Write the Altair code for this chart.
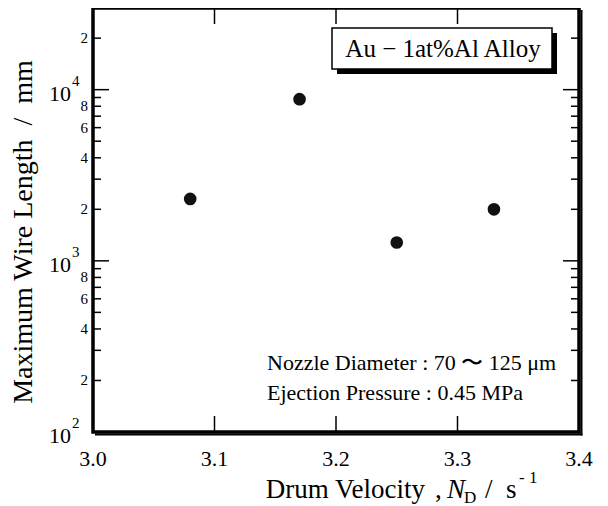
import altair as alt
import pandas as pd

# ---- data ----
drum_velocity = [3.08, 3.17, 3.25, 3.33]
max_wire_length = [2300, 8800, 1280, 2000]

x_ticks = [3.0, 3.1, 3.2, 3.3, 3.4]
x_tick_labels = ["3.0", "3.1", "3.2", "3.3", "3.4"]
y_major = [100, 1000, 10000]
y_major_exp = ["2", "3", "4"]
y_minor = [200, 300, 400, 500, 600, 700, 800, 900,
           2000, 3000, 4000, 5000, 6000, 7000, 8000, 9000,
           20000, 30000]
y_minor_labeled = [200, 400, 600, 800, 2000, 4000, 6000, 8000, 20000]
y_minor_labels = ["2", "4", "6", "8", "2", "4", "6", "8", "2"]

NB = "\u00a0"
legend_text = "Au − 1at%Al Alloy"
note_lines = ["Nozzle Diameter : 70 〜 125 μm", "Ejection Pressure : 0.45 MPa"]
y_title = f"Maximum Wire Length{NB}{NB}/{NB}{NB}mm"

W, H = 486, 424
FONT = "Liberation Serif"

xs = alt.Scale(domain=[3.0, 3.4], nice=False, zero=False)
ys = alt.Scale(type="log", domain=[100, 30000], nice=False)

pts = pd.DataFrame({"x": drum_velocity, "y": max_wire_length})
xt = pd.DataFrame({"x": x_ticks, "lab": x_tick_labels})
ymaj = pd.DataFrame({"y": y_major, "e": y_major_exp})
ymin = pd.DataFrame({"y": y_minor})
yminl = pd.DataFrame({"y": y_minor_labeled, "lab": y_minor_labels})
one = pd.DataFrame({"a": [0]})

X = lambda: alt.X("x:Q", scale=xs, axis=None)
Y = lambda: alt.Y("y:Q", scale=ys, axis=None)

points = alt.Chart(pts).mark_circle(size=160, color="#111111", opacity=1).encode(x=X(), y=Y())

# x ticks (bottom and top, inward)
xtick_b = alt.Chart(xt).mark_rule(color="black", strokeWidth=1.5).encode(
    x=X(), y=alt.value(H), y2=alt.value(H - 16))
xtick_t = alt.Chart(xt).mark_rule(color="black", strokeWidth=1.5).encode(
    x=X(), y=alt.value(0), y2=alt.value(16))
xlab = alt.Chart(xt).mark_text(font=FONT, fontSize=22, baseline="middle").encode(
    x=X(), y=alt.value(H + 27), text="lab:N")

# y ticks
ymaj_l = alt.Chart(ymaj).mark_rule(color="black", strokeWidth=1.5).encode(
    y=Y(), x=alt.value(0), x2=alt.value(16))
ymaj_r = alt.Chart(ymaj).mark_rule(color="black", strokeWidth=1.5).encode(
    y=Y(), x=alt.value(W), x2=alt.value(W - 16))
ymin_l = alt.Chart(ymin).mark_rule(color="black", strokeWidth=1.5).encode(
    y=Y(), x=alt.value(0), x2=alt.value(8))
ymin_r = alt.Chart(ymin).mark_rule(color="black", strokeWidth=1.5).encode(
    y=Y(), x=alt.value(W), x2=alt.value(W - 8))

ylab10 = alt.Chart(ymaj).mark_text(font=FONT, fontSize=22, align="right", baseline="middle", dy=4).encode(
    y=Y(), x=alt.value(-22), text=alt.value("10"))
ylabexp = alt.Chart(ymaj).mark_text(font=FONT, fontSize=15, align="left", baseline="middle", dy=-9).encode(
    y=Y(), x=alt.value(-21), text="e:N")
yminlab = alt.Chart(yminl).mark_text(font=FONT, fontSize=15, align="right", baseline="middle").encode(
    y=Y(), x=alt.value(-5), text="lab:N")

# frame and its shadow
frame = alt.Chart(one).mark_rect(fillOpacity=0, stroke="black", strokeWidth=3.5).encode(
    x=alt.value(0), x2=alt.value(W), y=alt.value(0), y2=alt.value(H))
shadow_r = alt.Chart(one).mark_rule(color="black", strokeWidth=2).encode(
    x=alt.value(W + 2.5), y=alt.value(2), y2=alt.value(H + 3.5))
shadow_b = alt.Chart(one).mark_rule(color="black", strokeWidth=2).encode(
    y=alt.value(H + 2.5), x=alt.value(2), x2=alt.value(W + 3.5))

# legend box
lg_sh = alt.Chart(one).mark_rect(color="black").encode(
    x=alt.value(244), x2=alt.value(464), y=alt.value(25), y2=alt.value(66))
lg_box = alt.Chart(one).mark_rect(fill="white", stroke="black", strokeWidth=1.5).encode(
    x=alt.value(239), x2=alt.value(459), y=alt.value(20), y2=alt.value(61))
lg_txt = alt.Chart(one).mark_text(font=FONT, fontSize=25, baseline="middle").encode(
    x=alt.value(350), y=alt.value(41), text=alt.value(legend_text))

note1 = alt.Chart(one).mark_text(font=FONT, fontSize=22, align="left", baseline="middle").encode(
    x=alt.value(174), y=alt.value(355), text=alt.value(note_lines[0]))
note2 = alt.Chart(one).mark_text(font=FONT, fontSize=22, align="left", baseline="middle").encode(
    x=alt.value(174), y=alt.value(385), text=alt.value(note_lines[1]))

# axis titles
ytitle = alt.Chart(one).mark_text(font=FONT, fontSize=28, angle=270, baseline="middle").encode(
    x=alt.value(-69), y=alt.value(224), text=alt.value(y_title))
TB = H + 66
xt1 = alt.Chart(one).mark_text(font=FONT, fontSize=27, align="right", baseline="alphabetic").encode(
    x=alt.value(332), y=alt.value(TB), text=alt.value("Drum Velocity"))
xt1b = alt.Chart(one).mark_text(font=FONT, fontSize=27, align="left", baseline="alphabetic").encode(
    x=alt.value(342), y=alt.value(TB), text=alt.value(","))
xt2 = alt.Chart(one).mark_text(font=FONT, fontSize=27, fontStyle="italic", align="left", baseline="alphabetic").encode(
    x=alt.value(354), y=alt.value(TB), text=alt.value("N"))
xt3 = alt.Chart(one).mark_text(font=FONT, fontSize=17, align="left", baseline="alphabetic").encode(
    x=alt.value(371), y=alt.value(TB + 5), text=alt.value("D"))
xt4 = alt.Chart(one).mark_text(font=FONT, fontSize=27, align="left", baseline="alphabetic").encode(
    x=alt.value(392), y=alt.value(TB), text=alt.value("/"))
xt4b = alt.Chart(one).mark_text(font=FONT, fontSize=27, align="left", baseline="alphabetic").encode(
    x=alt.value(413), y=alt.value(TB), text=alt.value("s"))
xt5 = alt.Chart(one).mark_text(font=FONT, fontSize=17, align="left", baseline="alphabetic").encode(
    x=alt.value(426), y=alt.value(TB - 15), text=alt.value(f"-{NB}1"))

chart = alt.layer(
    shadow_r, shadow_b, frame,
    xtick_b, xtick_t, ymaj_l, ymaj_r, ymin_l, ymin_r,
    points, lg_sh, lg_box, lg_txt, note1, note2,
    xlab, ylab10, ylabexp, yminlab, ytitle,
    xt1, xt1b, xt2, xt3, xt4, xt4b, xt5,
).properties(
    width=W, height=H,
    autosize=alt.AutoSizeParams(type="none"),
    padding={"left": 85, "top": 0, "right": 21, "bottom": 74},
).configure_view(stroke=None).configure(background="white")

chart.save("out.html", embed_options={"renderer": "svg", "actions": False})
